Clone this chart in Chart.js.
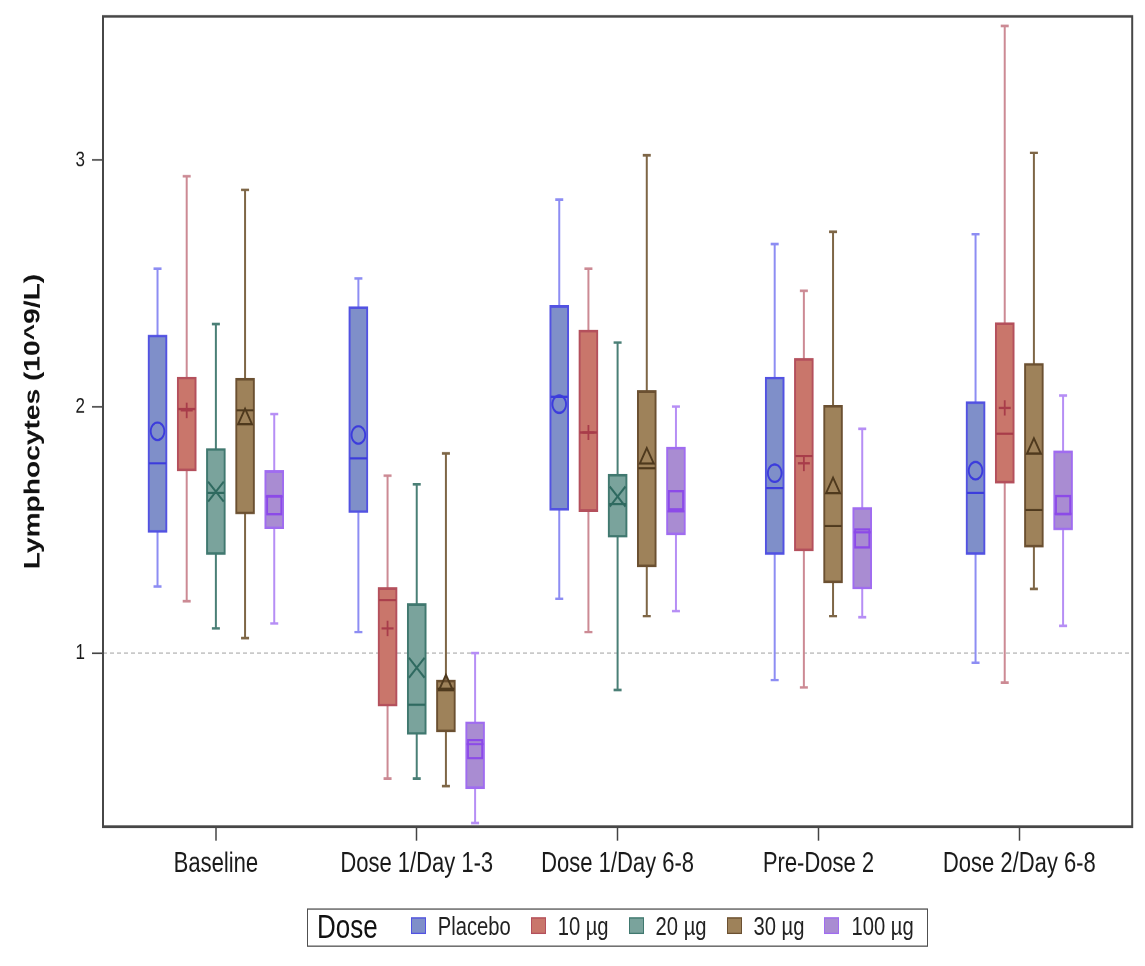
<!DOCTYPE html>
<html>
<head>
<meta charset="utf-8">
<script src="https://cdn.jsdelivr.net/npm/chart.js@4.4.1/dist/chart.umd.min.js"></script>
<style>
  html, body { margin: 0; padding: 0; background: #ffffff; }
  #wrap { position: relative; width: 1145px; height: 966px; overflow: hidden; }
  /* the whole figure is drawn on a 1145x755 stage and stretched vertically, like the reference image */
  #stage { position: absolute; left: 0; top: 0; width: 1145px; height: 755px;
           transform: scaleY(1.27947); transform-origin: 0 0; }
  #c { position: absolute; left: 0; top: 0; }
  #legend {
    position: absolute; left: 307px; top: 709.7px; width: 621px; height: 30.5px;
    box-sizing: border-box; border: 1.6px solid #505050;
    display: flex; align-items: center; padding-left: 9px;
    font-family: 'Liberation Sans', Arial, sans-serif;
    color: #222; white-space: nowrap;
  }
  #legend .ttl { font-size: 26px; margin-right: 33px; color: #111; flex-shrink: 0; }
  #legend .sw { display: block; flex-shrink: 0; width: 13px; height: 11px; margin-right: 12px; margin-top: -2px; }
  #legend .lb { font-size: 20.2px; margin-right: 20px; flex-shrink: 0; }
</style>
</head>
<body>
<div id="wrap">
  <div id="stage">
    <canvas id="c" width="1145" height="755"></canvas>
    <div id="legend"></div>
  </div>
</div>
<script>
// ---------------- DATA ----------------
const categories = ['Baseline', 'Dose 1/Day 1-3', 'Dose 1/Day 6-8', 'Pre-Dose 2', 'Dose 2/Day 6-8'];
const doseNames = ['Placebo', '10 µg', '20 µg', '30 µg', '100 µg'];
const yTickValues = [1, 2, 3];
const referenceValue = 1;
// each row: [min, q1, median, q3, max, mean] for one visit (null = no data)
const placebo = [
  [1.27, 1.49, 1.77, 2.29, 2.56, 1.90],
  [1.085, 1.57, 1.79, 2.405, 2.52, 1.885],
  [1.22, 1.58, 2.04, 2.41, 2.84, 2.01],
  [0.89, 1.40, 1.67, 2.12, 2.66, 1.73],
  [0.96, 1.40, 1.65, 2.02, 2.70, 1.74]
];
const dose10 = [
  [1.21, 1.74, 1.99, 2.12, 2.935, 1.985],
  [0.49, 0.785, 1.215, 1.265, 1.72, 1.10],
  [1.085, 1.575, 1.895, 2.31, 2.56, 1.895],
  [0.86, 1.415, 1.80, 2.195, 2.47, 1.77],
  [0.88, 1.69, 1.89, 2.34, 3.545, 1.995]
];
const dose20 = [
  [1.10, 1.40, 1.65, 1.83, 2.335, 1.655],
  [0.49, 0.67, 0.79, 1.20, 1.685, 0.94],
  [0.85, 1.47, 1.605, 1.725, 2.26, 1.635],
  null,
  null
];
const dose30 = [
  [1.06, 1.565, 1.985, 2.115, 2.88, 1.95],
  [0.46, 0.68, 0.855, 0.89, 1.81, 0.87],
  [1.15, 1.35, 1.75, 2.065, 3.02, 1.79],
  [1.15, 1.285, 1.515, 2.005, 2.71, 1.67],
  [1.26, 1.43, 1.58, 2.175, 3.03, 1.83]
];
const dose100 = [
  [1.12, 1.505, 1.635, 1.74, 1.97, 1.60],
  [0.31, 0.45, 0.63, 0.72, 1.00, 0.61],
  [1.17, 1.48, 1.575, 1.835, 2.00, 1.62],
  [1.145, 1.26, 1.49, 1.59, 1.91, 1.465],
  [1.11, 1.50, 1.565, 1.82, 2.045, 1.60]
];
const series = [placebo, dose10, dose20, dose30, dose100];

// ---------------- STYLE ----------------
const fillColors    = ['#7f8fc9', '#c9766b', '#7aa39c', '#9e825a', '#a98cd2'];
const borderColors  = ['#5252e2', '#b4505c', '#40786f', '#6b5031', '#a06cf0'];
const whiskerColors = ['#8d8df3', '#cc8a94', '#4a7f76', '#7e6646', '#b68ef5'];
const medianColors  = ['#3c3cdc', '#a83c4a', '#2f6a60', '#4e391d', '#8c4ae8'];
const meanStyles    = ['circle', 'cross', 'crossRot', 'triangle', 'rect'];
const meanRadius    = [6.8, 6, 11, 8, 10];

const X_MIN = -0.562, X_MAX = 4.562;
const Y_MIN = 0.295, Y_MAX = 3.584;
const PX_PER_UNIT = 1030 / (X_MAX - X_MIN);
const STEP = 29.2 / PX_PER_UNIT;        // spacing between boxes in a group
const BOX_PX = 19;
const CAP_HALF = 4 / PX_PER_UNIT;
const MED_HALF = 8.5 / PX_PER_UNIT;

function xPos(d, c) {
  const present = series.map(s => s[c] != null);
  const n = present.filter(Boolean).length;
  let k = 0;
  for (let j = 0; j < d; j++) if (present[j]) k++;
  return c + (k - (n - 1) / 2) * STEP;
}

const datasets = [];
datasets.push({
  type: 'line', label: 'ref',
  data: [{x: X_MIN, y: referenceValue}, {x: X_MAX, y: referenceValue}],
  borderColor: '#b8b8b8', borderWidth: 1, borderDash: [4, 3],
  pointRadius: 0, order: 20
});

series.forEach((s, d) => {
  const boxes = [], whisk = [], meds = [], means = [];
  categories.forEach((cat, c) => {
    const r = s[c];
    if (!r) return;
    const x = xPos(d, c);
    const [mn, q1, md, q3, mx, mean] = r;
    boxes.push({x: x, y: [q1, q3]});
    whisk.push({x: x, y: mn}, {x: x, y: q1}, {x: x, y: null},
               {x: x, y: q3}, {x: x, y: mx}, {x: x, y: null},
               {x: x - CAP_HALF, y: mn}, {x: x + CAP_HALF, y: mn}, {x: x, y: null},
               {x: x - CAP_HALF, y: mx}, {x: x + CAP_HALF, y: mx}, {x: x, y: null});
    meds.push({x: x - MED_HALF, y: md}, {x: x + MED_HALF, y: md}, {x: x, y: null});
    means.push({x: x, y: mean});
  });
  datasets.push({
    type: 'bar', label: doseNames[d], data: boxes,
    backgroundColor: fillColors[d], borderColor: borderColors[d], borderWidth: 2,
    borderSkipped: false, grouped: false, barThickness: BOX_PX, order: 10
  });
  datasets.push({
    type: 'line', label: doseNames[d] + ' whisker', data: whisk,
    borderColor: whiskerColors[d], borderWidth: 2, pointRadius: 0, spanGaps: false,
    order: 11
  });
  datasets.push({
    type: 'line', label: doseNames[d] + ' median', data: meds,
    borderColor: medianColors[d], borderWidth: 1.7, pointRadius: 0, spanGaps: false,
    order: 4
  });
  datasets.push({
    type: 'line', label: doseNames[d] + ' mean', data: means, showLine: false,
    pointStyle: meanStyles[d], pointRadius: meanRadius[d], pointHoverRadius: meanRadius[d],
    pointBorderWidth: 1.8, pointBorderColor: medianColors[d], pointBackgroundColor: 'rgba(0,0,0,0)',
    borderColor: medianColors[d], order: 2
  });
});

const framePlugin = {
  id: 'frame',
  afterDraw(chart) {
    const {ctx, chartArea: a} = chart;
    ctx.save();
    ctx.strokeStyle = '#474747';
    ctx.lineWidth = 2;
    ctx.strokeRect(a.left, a.top, a.right - a.left, a.bottom - a.top);
    ctx.restore();
  }
};

const sans = "'Liberation Sans', Arial, sans-serif";

const chart = new Chart(document.getElementById('c'), {
  type: 'bar',
  data: { datasets: datasets },
  plugins: [framePlugin],
  options: {
    responsive: false, animation: false, devicePixelRatio: 2,
    layout: { padding: { top: 12.5, right: 12, left: 0, bottom: 0 } },
    plugins: { legend: { display: false }, tooltip: { enabled: false } },
    scales: {
      x: {
        type: 'linear', min: X_MIN, max: X_MAX, offset: false,
        afterBuildTicks: (s) => { s.ticks = categories.map((c, i) => ({value: i})); },
        afterFit: (s) => { s.height = 108.9; s.paddingLeft = 0; s.paddingRight = 0; },
        ticks: {
          callback: (v) => categories[v],
          font: { family: sans, size: 22 }, color: '#1a1a1a', padding: 5,
          maxRotation: 0, autoSkip: false
        },
        grid: { offset: false, drawOnChartArea: false, drawTicks: true, tickLength: 10.9, tickColor: '#444', tickWidth: 1.5 },
        border: { display: false }
      },
      y: {
        type: 'linear', min: Y_MIN, max: Y_MAX,
        afterBuildTicks: (s) => { s.ticks = yTickValues.map(v => ({value: v})); },
        afterFit: (s) => { s.width = 103; s.paddingTop = 0; s.paddingBottom = 0; },
        ticks: { font: { family: sans, size: 17 }, color: '#1a1a1a', padding: 7 },
        grid: { drawOnChartArea: false, drawTicks: true, tickLength: 11, tickColor: '#444', tickWidth: 1.2 },
        border: { display: false },
        title: {
          display: true, text: 'Lymphocytes (10^9/L)',
          font: { family: sans, size: 22, weight: 'bold' }, color: '#111',
          padding: { top: 20, bottom: 0 }
        }
      }
    }
  }
});

// HTML legend built from the series names and colours
const legend = document.getElementById('legend');
const t = document.createElement('span');
t.className = 'ttl'; t.textContent = 'Dose';
legend.appendChild(t);
doseNames.forEach((name, d) => {
  const sw = document.createElement('span');
  sw.className = 'sw';
  sw.style.background = fillColors[d];
  sw.style.border = '1.5px solid ' + borderColors[d];
  const lb = document.createElement('span');
  lb.className = 'lb'; lb.textContent = name;
  legend.appendChild(sw); legend.appendChild(lb);
});
</script>
</body>
</html>
